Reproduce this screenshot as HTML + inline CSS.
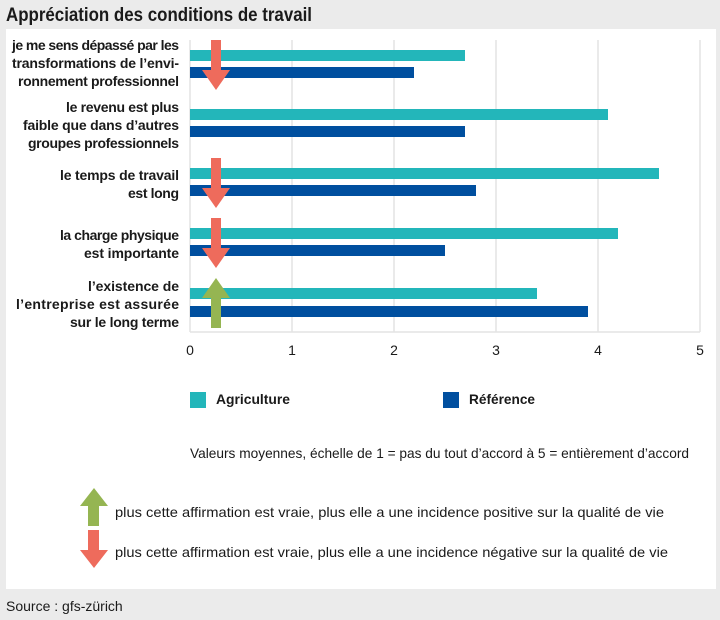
<!DOCTYPE html>
<html><head><meta charset="utf-8"><style>
body{margin:0;width:720px;height:620px;background:#ebebeb;font-family:"Liberation Sans",sans-serif;overflow:hidden}
svg{display:block}
</style></head><body>
<svg width="720" height="620" xmlns="http://www.w3.org/2000/svg" font-family="Liberation Sans, sans-serif">
<rect x="0" y="0" width="720" height="620" fill="#ebebeb"/>
<text x="6" y="21" font-size="19" font-weight="bold" fill="#1a1a1a" textLength="306" lengthAdjust="spacingAndGlyphs">Appréciation des conditions de travail</text>
<rect x="6" y="29" width="710" height="560" fill="#fff"/>
<g stroke="#e3e3e3" stroke-width="1.5">
<line x1="190" y1="40" x2="190" y2="332"/><line x1="292" y1="40" x2="292" y2="332"/><line x1="394" y1="40" x2="394" y2="332"/><line x1="496" y1="40" x2="496" y2="332"/><line x1="598" y1="40" x2="598" y2="332"/><line x1="700" y1="40" x2="700" y2="332"/>
<line x1="190" y1="332" x2="700" y2="332"/>
</g>
<g fill="#23b6ba">
<rect x="190" y="50" width="275" height="11"/><rect x="190" y="109" width="418" height="11"/><rect x="190" y="168" width="469" height="11"/><rect x="190" y="228" width="428" height="11"/><rect x="190" y="288" width="347" height="11"/>
</g>
<g fill="#004f9f">
<rect x="190" y="67" width="224" height="11"/><rect x="190" y="126" width="275" height="11"/><rect x="190" y="185" width="286" height="11"/><rect x="190" y="245" width="255" height="11"/><rect x="190" y="306" width="398" height="11"/>
</g>
<g fill="#ee6b5c">
<path d="M211 40h10v30h9l-14 20l-14-20h9z"/>
<path d="M211 158h10v30h9l-14 20l-14-20h9z"/>
<path d="M211 218h10v30h9l-14 20l-14-20h9z"/>
<path d="M88 530h11v20h9l-14 18l-14-18h8z"/>
</g>
<g fill="#95b552">
<path d="M211 328h10v-30h9l-14-20l-14 20h9z"/>
<path d="M88 526h11v-20h9l-14-18l-14 18h8z"/>
</g>
<g font-size="14" font-weight="bold" fill="#1a1a1a" lengthAdjust="spacingAndGlyphs">
<text x="12" y="50" textLength="167">je me sens dépassé par les</text><text x="12" y="68" textLength="167">transformations de l’envi-</text><text x="18" y="86" textLength="161">ronnement professionnel</text>
<text x="66" y="112" textLength="113">le revenu est plus</text><text x="23" y="130" textLength="156">faible que dans d’autres</text><text x="28" y="148" textLength="151">groupes professionnels</text>
<text x="60" y="180" textLength="119">le temps de travail</text><text x="128" y="198" textLength="51">est long</text>
<text x="60" y="240" textLength="119">la charge physique</text><text x="84" y="258" textLength="95">est importante</text>
<text x="88" y="291" textLength="91">l’existence de</text><text x="16" y="309" textLength="163">l’entreprise est assurée</text><text x="70" y="327" textLength="109">sur le long terme</text>
</g>
<g font-size="14" fill="#1a1a1a" text-anchor="middle">
<text x="190" y="355">0</text><text x="292" y="355">1</text><text x="394" y="355">2</text><text x="496" y="355">3</text><text x="598" y="355">4</text><text x="700" y="355">5</text>
</g>
<rect x="190" y="392" width="16" height="16" fill="#23b6ba"/>
<text x="216" y="404" font-size="14" font-weight="bold" fill="#1a1a1a" textLength="74" lengthAdjust="spacingAndGlyphs">Agriculture</text>
<rect x="443" y="392" width="16" height="16" fill="#004f9f"/>
<text x="469" y="404" font-size="14" font-weight="bold" fill="#1a1a1a" textLength="66" lengthAdjust="spacingAndGlyphs">Référence</text>
<text x="190" y="458" font-size="14" fill="#1a1a1a" textLength="499" lengthAdjust="spacingAndGlyphs">Valeurs moyennes, échelle de 1 = pas du tout d’accord à 5 = entièrement d’accord</text>
<text x="115" y="517" font-size="14" fill="#1a1a1a" textLength="549" lengthAdjust="spacingAndGlyphs">plus cette affirmation est vraie, plus elle a une incidence positive sur la qualité de vie</text>
<text x="115" y="557" font-size="14" fill="#1a1a1a" textLength="553" lengthAdjust="spacingAndGlyphs">plus cette affirmation est vraie, plus elle a une incidence négative sur la qualité de vie</text>
<text x="6" y="611" font-size="14" fill="#1a1a1a">Source : gfs-zürich</text>
</svg>
</body></html>
